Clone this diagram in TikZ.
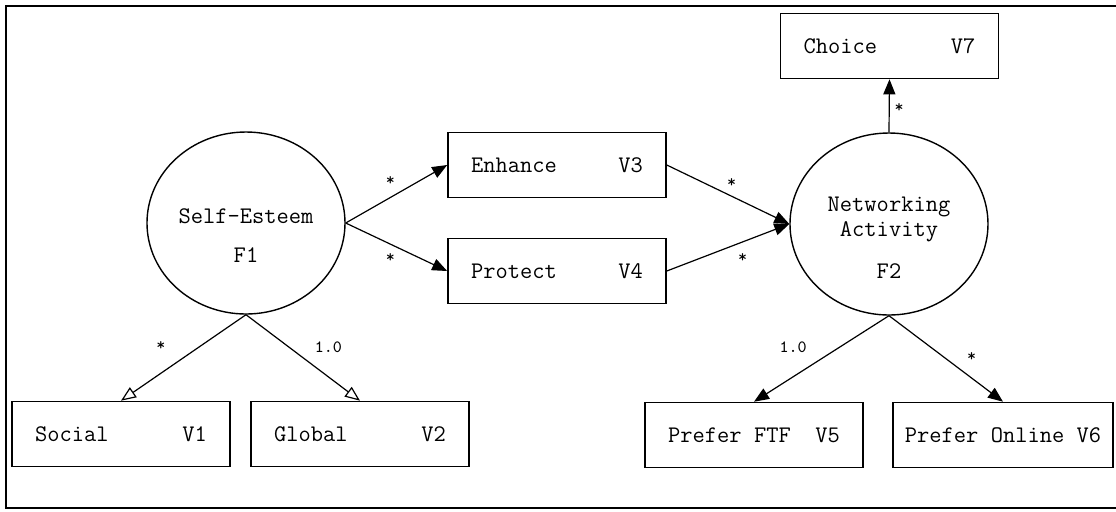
\documentclass[tikz,border=0pt]{standalone}
\usepackage{fontspec}
\usetikzlibrary{shapes.geometric,arrows.meta}

\begin{document}
\begin{tikzpicture}[x=0.5pt,y=-0.5pt,
  manifest/.style={draw,line width=0.8pt,minimum width=109pt,minimum height=32.5pt,inner sep=0pt,font=\ttfamily\fontsize{11.9}{13}\selectfont},
  latent/.style={draw,ellipse,line width=0.7pt,minimum width=99pt,minimum height=91pt,inner sep=0pt},
  caption/.style={font=\ttfamily\fontsize{11.9}{12.5}\selectfont,align=center,inner sep=0pt},
  effect/.style={-{Triangle[length=7.5pt,width=6pt]},line width=0.6pt},
  loading/.style={-{Triangle[open,length=7.5pt,width=6pt]},line width=0.6pt},
  wt/.style={font=\ttfamily\fontsize{8.6}{9}\selectfont,inner sep=0pt}]
\useasboundingbox (0,0) rectangle (1116,511);

% frame
\draw[line width=1pt] (1116,6) -- (6,6) -- (6,508) -- (1116,508);

% latent factors
\node[latent] (F1) at (246,223) {};
\node[caption] (F1name) at (246,216) {Self-Esteem};
\node[caption] (F1code) at (246,255) {F1};

\node[latent] (F2) at (889,224) {};
\node[caption] (F2name) at (889,219.5) {Networking\\Activity};
\node[caption] (F2code) at (889,271) {F2};

% measured variables
\node[manifest] (V1) at (121,434) {Social\ \ \ \ \ \ V1};
\node[manifest] (V2) at (360,434) {Global\ \ \ \ \ \ V2};
\node[manifest] (V3) at (557,165) {Enhance\ \ \ \ \ V3};
\node[manifest] (V4) at (557,271) {Protect\ \ \ \ \ V4};
\node[manifest] (V5) at (754,435) {Prefer FTF\ \ V5};
\node[manifest,minimum width=110pt] (V6) at (1003,435) {Prefer Online V6};
\node[manifest] (V7) at (889.5,46) {Choice\ \ \ \ \ \ V7};

% paths
\draw[effect] (F1.east) -- node[wt,pos=0.44,yshift=8pt] (w13) {*} (V3.west);
\draw[effect] (F1.east) -- node[wt,pos=0.44,yshift=-6.7pt] (w14) {*} (V4.west);
\draw[effect] (V3.east) -- node[wt,pos=0.53,yshift=6.7pt] (w32) {*} (F2.west);
\draw[effect] (V4.east) -- node[wt,pos=0.62,yshift=-8pt] (w42) {*} (F2.west);
\draw[effect] (F2.north) -- node[wt,pos=0.46,xshift=5pt] (w27) {*} (V7.south);

\draw[loading] (F1.south) -- node[wt,pos=0.36,xshift=-20pt] (w11) {*} (V1.north);
\draw[loading] (F1.south) -- node[wt,pos=0.38,xshift=19.5pt] (w12) {1.0} (V2.north);
\draw[effect] (F2.south) -- node[wt,pos=0.37,xshift=-23pt] (w25) {1.0} (V5.north);
\draw[effect] (F2.south) -- node[wt,pos=0.48,xshift=14pt] (w26) {*} (V6.north);
\end{tikzpicture}
\end{document}
